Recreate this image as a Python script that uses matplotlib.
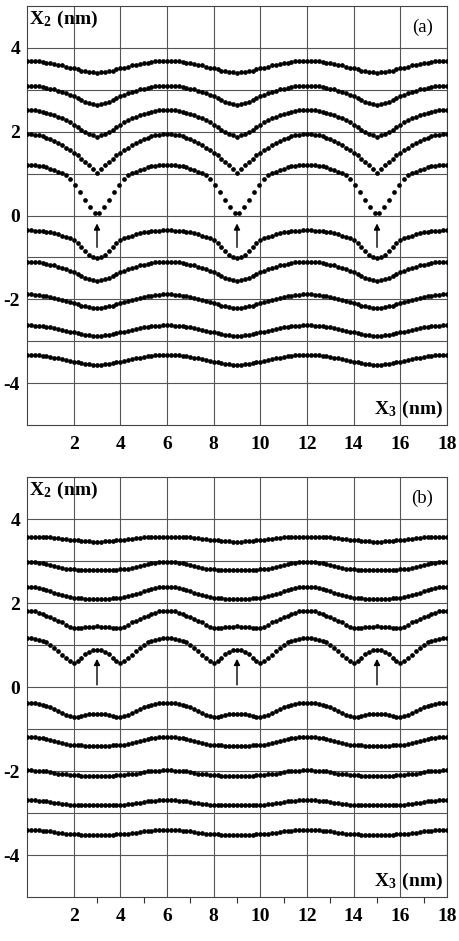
import numpy as np
import matplotlib
matplotlib.use('Agg')
import matplotlib.pyplot as plt

plt.rcParams['font.family'] = ['Liberation Serif', 'DejaVu Serif']
plt.rcParams['mathtext.fontset'] = 'custom'
plt.rcParams['mathtext.rm'] = 'Liberation Serif'
plt.rcParams['mathtext.bf'] = 'Liberation Serif:bold'
plt.rcParams['axes.unicode_minus'] = False

# x of the dots over one half period (0..3 nm); rows are mirrored about 3 and repeat every 6 nm
half_x = [0, 0.17, 0.33, 0.5, 0.67, 0.83, 1.0, 1.17, 1.33, 1.5,
          1.67, 1.83, 2.0, 2.17, 2.33, 2.5, 2.67, 2.83, 3.0]
core_x_a = [0, 0.17, 0.33, 0.5, 0.67, 0.83, 1.0, 1.17, 1.33, 1.5,
            1.67, 1.85, 2.05, 2.27, 2.5, 2.72, 2.9]

# panel (a) rows, top to bottom
a1 = [3.69, 3.69, 3.68, 3.68, 3.66, 3.65, 3.63, 3.62, 3.60, 3.58, 3.55, 3.53, 3.51, 3.49, 3.46, 3.45, 3.43, 3.42, 3.41]
a2 = [3.10, 3.10, 3.09, 3.08, 3.07, 3.05, 3.03, 3.01, 2.98, 2.95, 2.92, 2.88, 2.85, 2.81, 2.76, 2.72, 2.69, 2.66, 2.64]
a3 = [2.52, 2.52, 2.51, 2.49, 2.48, 2.45, 2.42, 2.39, 2.35, 2.32, 2.27, 2.22, 2.17, 2.11, 2.05, 2.00, 1.94, 1.91, 1.88]
a4 = [1.95, 1.95, 1.93, 1.91, 1.89, 1.85, 1.82, 1.77, 1.73, 1.68, 1.62, 1.56, 1.50, 1.44, 1.36, 1.28, 1.20, 1.11, 1.02]
a5 = [1.21, 1.21, 1.20, 1.19, 1.17, 1.15, 1.12, 1.09, 1.05, 1.01, 0.96, 0.86, 0.72, 0.55, 0.37, 0.20, 0.06]
a6 = [-0.35, -0.35, -0.36, -0.36, -0.37, -0.39, -0.40, -0.42, -0.45, -0.48, -0.51, -0.54, -0.58, -0.65, -0.75, -0.85, -0.94, -0.99, -1.02]
a7 = [-1.10, -1.10, -1.11, -1.12, -1.13, -1.15, -1.17, -1.19, -1.22, -1.25, -1.28, -1.32, -1.36, -1.40, -1.44, -1.49, -1.52, -1.55, -1.57]
a8 = [-1.88, -1.88, -1.89, -1.90, -1.91, -1.93, -1.95, -1.97, -1.99, -2.02, -2.04, -2.07, -2.10, -2.12, -2.15, -2.17, -2.19, -2.20, -2.21]
a9 = [-2.62, -2.62, -2.63, -2.63, -2.64, -2.66, -2.67, -2.69, -2.71, -2.73, -2.75, -2.77, -2.79, -2.81, -2.83, -2.85, -2.86, -2.87, -2.88]
a10 = [-3.33, -3.33, -3.34, -3.34, -3.35, -3.36, -3.38, -3.39, -3.41, -3.43, -3.45, -3.47, -3.49, -3.50, -3.52, -3.54, -3.55, -3.56, -3.57]

# panel (b) rows, top to bottom
b1 = [3.58, 3.58, 3.58, 3.57, 3.57, 3.56, 3.56, 3.55, 3.54, 3.53, 3.52, 3.51, 3.50, 3.49, 3.48, 3.47, 3.47, 3.46, 3.46]
b2 = [2.98, 2.98, 2.97, 2.96, 2.95, 2.93, 2.91, 2.88, 2.86, 2.84, 2.82, 2.81, 2.80, 2.79, 2.79, 2.78, 2.78, 2.78, 2.78]
b3 = [2.39, 2.39, 2.38, 2.36, 2.34, 2.32, 2.29, 2.25, 2.22, 2.18, 2.16, 2.14, 2.12, 2.12, 2.11, 2.10, 2.10, 2.10, 2.10]
b4 = [1.82, 1.815, 1.80, 1.77, 1.74, 1.70, 1.66, 1.62, 1.58, 1.54, 1.48, 1.43, 1.40, 1.40, 1.41, 1.42, 1.43, 1.44, 1.45]
b5 = [1.17, 1.165, 1.15, 1.13, 1.10, 1.06, 1.01, 0.94, 0.86, 0.77, 0.68, 0.61, 0.58, 0.62, 0.70, 0.78, 0.84, 0.87, 0.88]
b6 = [-0.38, -0.385, -0.39, -0.40, -0.42, -0.45, -0.48, -0.52, -0.56, -0.61, -0.66, -0.70, -0.72, -0.71, -0.68, -0.66, -0.645, -0.64, -0.64]
b7 = [-1.19, -1.19, -1.20, -1.21, -1.22, -1.24, -1.27, -1.29, -1.32, -1.34, -1.36, -1.37, -1.38, -1.39, -1.39, -1.40, -1.40, -1.40, -1.40]
b8 = [-1.98, -1.98, -1.99, -1.99, -2.00, -2.01, -2.03, -2.04, -2.06, -2.07, -2.08, -2.09, -2.10, -2.10, -2.11, -2.11, -2.11, -2.11, -2.11]
b9 = [-2.69, -2.69, -2.70, -2.71, -2.71, -2.72, -2.74, -2.76, -2.77, -2.79, -2.79, -2.80, -2.81, -2.81, -2.82, -2.82, -2.82, -2.82, -2.82]
b10 = [-3.40, -3.40, -3.41, -3.41, -3.42, -3.43, -3.44, -3.46, -3.47, -3.48, -3.49, -3.50, -3.51, -3.51, -3.52, -3.52, -3.52, -3.52, -3.52]

rows_a = [(half_x, a1), (half_x, a2), (half_x, a3), (half_x, a4), (core_x_a, a5),
          (half_x, a6), (half_x, a7), (half_x, a8), (half_x, a9), (half_x, a10)]
rows_b = [(half_x, r) for r in (b1, b2, b3, b4, b5, b6, b7, b8, b9, b10)]

arrow_x = [3, 9, 15]
arrow_a = (-0.76, -0.19)
arrow_b = (0.05, 0.67)

xticks = [2, 4, 6, 8, 10, 12, 14, 16, 18]
yticks = [-4, -2, 0, 2, 4]
ygrid_minor = [-3, -1, 1, 3]
odd_ticks = [3, 5, 7, 9, 11, 13, 15, 17]
period = 6.0


def full_row(hx, hy):
    hx = np.asarray(hx, float)
    hy = np.asarray(hy, float)
    keep = (hx > 0) & (hx < 3)
    px = np.concatenate([hx, period - hx[keep][::-1]])
    py = np.concatenate([hy, hy[keep][::-1]])
    xs = np.concatenate([px + p * period for p in range(3)] + [[3 * period]])
    ys = np.concatenate([py] * 3 + [[hy[0]]])
    return xs, ys


def panel(ax, rows, arrow, tag, minor_ticks):
    for hx, hy in rows:
        xs, ys = full_row(hx, hy)
        ax.plot(xs, ys, 'o', ms=3.4, color='k', mec='none', zorder=3)
    for xa in arrow_x:
        ax.annotate('', xy=(xa, arrow[1]), xytext=(xa, arrow[0]),
                    arrowprops=dict(arrowstyle='-|>', color='k', lw=1.0,
                                    mutation_scale=9, shrinkA=0, shrinkB=0),
                    zorder=4)
    ax.set_xlim(0, 18)
    ax.set_ylim(-5, 5)
    ax.set_xticks(xticks)
    ax.set_yticks(yticks)
    ax.set_yticks(ygrid_minor, minor=True)
    if minor_ticks:
        ax.set_xticks(odd_ticks, minor=True)
        ax.tick_params(axis='x', which='minor', length=4.5, width=0.8,
                       direction='out', color='#333333')
    ax.tick_params(axis='both', which='major', length=0)
    ax.tick_params(axis='y', which='minor', length=0)
    ax.tick_params(axis='x', pad=8)
    ax.tick_params(axis='y', pad=5)
    for lab in ax.get_xticklabels() + ax.get_yticklabels():
        lab.set_fontweight('bold')
        lab.set_fontsize(14)
    ax.set_axisbelow(True)
    ax.grid(True, axis='x', which='major', color='#555555', lw=0.8)
    ax.grid(True, axis='y', which='both', color='#555555', lw=0.8)
    for s in ax.spines.values():
        s.set_color('#444444')
        s.set_linewidth(0.8)
    ax.text(0.08, 4.68, r'$\mathbf{X_2\ (nm)}$', fontsize=14, ha='left', va='center')
    ax.text(17.85, -4.62, r'$\mathbf{X_3\ (nm)}$', fontsize=14, ha='right', va='center')
    ax.text(16.95, 4.48, tag, fontsize=13.5, ha='center', va='center')


fig = plt.figure(figsize=(4.6, 9.41), dpi=100)
ax1 = fig.add_axes([27 / 460, 1 - 425 / 941, 420 / 460, 419 / 941])
ax2 = fig.add_axes([27 / 460, 1 - 897 / 941, 420 / 460, 420 / 941])
panel(ax1, rows_a, arrow_a, '(a)', False)
panel(ax2, rows_b, arrow_b, '(b)', True)

fig.savefig('out.png', dpi=100)
